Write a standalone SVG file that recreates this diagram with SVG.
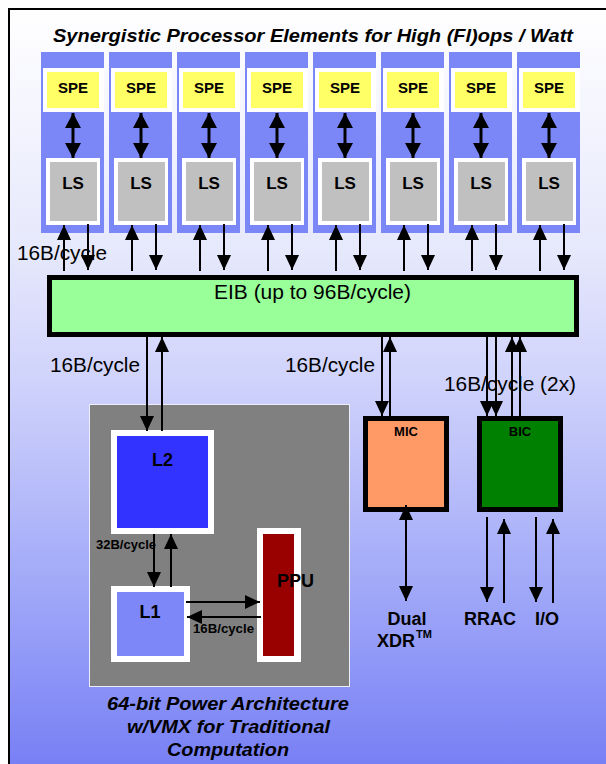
<svg xmlns="http://www.w3.org/2000/svg" width="606" height="764" viewBox="0 0 606 764">
<style>
text{font-family:"Liberation Sans",Arial,sans-serif;fill:#000}
.b{font-weight:bold}
.bi{font-weight:bold;font-style:italic}
.lbl{font-size:20px}
.col{fill:#7c87f7}
.wf{fill:#ffffff}
.spe{fill:#ffff66}
.ls{fill:#c0c0c0}
.ln{stroke:#000;stroke-width:2;fill:none}
.lnb{stroke:#000;stroke-width:3;fill:none}
.box{stroke:#000;stroke-width:5}
</style>
<defs>
<linearGradient id="bg" gradientUnits="userSpaceOnUse" x1="0" y1="9" x2="0" y2="764">
<stop offset="0" stop-color="#ffffff"/>
<stop offset="0.32" stop-color="#e6e8fc"/>
<stop offset="0.49" stop-color="#d0d3fb"/>
<stop offset="0.78" stop-color="#9ea6f8"/>
<stop offset="1" stop-color="#7880f5"/>
</linearGradient>
<marker id="ah" markerUnits="userSpaceOnUse" markerWidth="16" markerHeight="15" refX="15" refY="7" orient="auto-start-reverse" viewBox="0 0 16 15">
<path d="M0,0 L15,7 L0,14 Z" fill="#000"/>
</marker>
<marker id="ahb" markerUnits="userSpaceOnUse" markerWidth="16" markerHeight="17" refX="15" refY="8" orient="auto-start-reverse" viewBox="0 0 16 17">
<path d="M0,0 L15,8 L0,16 Z" fill="#000"/>
</marker>
</defs>
<rect width="606" height="764" fill="#ffffff"/>
<rect x="9" y="9" width="620" height="780" fill="url(#bg)" stroke="#000" stroke-width="2"/>
<text x="53" y="42" class="bi" font-size="18" textLength="520" lengthAdjust="spacingAndGlyphs">Synergistic Processor Elements for High (Fl)ops / Watt</text>

<g id="spe1" transform="translate(41,0)"><rect class="col" x="0" y="52" width="63" height="181"/><rect class="wf" x="2" y="68" width="61" height="44"/><rect class="spe" x="6" y="72" width="52" height="36"/><text class="b" x="32" y="93" font-size="15" text-anchor="middle">SPE</text><rect class="wf" x="5" y="158" width="54" height="67"/><rect class="ls" x="9" y="162" width="47" height="59"/><text class="b" x="32" y="189" font-size="17" text-anchor="middle">LS</text></g>
<g id="spe2" transform="translate(109,0)"><rect class="col" x="0" y="52" width="63" height="181"/><rect class="wf" x="2" y="68" width="61" height="44"/><rect class="spe" x="6" y="72" width="52" height="36"/><text class="b" x="32" y="93" font-size="15" text-anchor="middle">SPE</text><rect class="wf" x="5" y="158" width="54" height="67"/><rect class="ls" x="9" y="162" width="47" height="59"/><text class="b" x="32" y="189" font-size="17" text-anchor="middle">LS</text></g>
<g id="spe3" transform="translate(177,0)"><rect class="col" x="0" y="52" width="63" height="181"/><rect class="wf" x="2" y="68" width="61" height="44"/><rect class="spe" x="6" y="72" width="52" height="36"/><text class="b" x="32" y="93" font-size="15" text-anchor="middle">SPE</text><rect class="wf" x="5" y="158" width="54" height="67"/><rect class="ls" x="9" y="162" width="47" height="59"/><text class="b" x="32" y="189" font-size="17" text-anchor="middle">LS</text></g>
<g id="spe4" transform="translate(245,0)"><rect class="col" x="0" y="52" width="63" height="181"/><rect class="wf" x="2" y="68" width="61" height="44"/><rect class="spe" x="6" y="72" width="52" height="36"/><text class="b" x="32" y="93" font-size="15" text-anchor="middle">SPE</text><rect class="wf" x="5" y="158" width="54" height="67"/><rect class="ls" x="9" y="162" width="47" height="59"/><text class="b" x="32" y="189" font-size="17" text-anchor="middle">LS</text></g>
<g id="spe5" transform="translate(313,0)"><rect class="col" x="0" y="52" width="63" height="181"/><rect class="wf" x="2" y="68" width="61" height="44"/><rect class="spe" x="6" y="72" width="52" height="36"/><text class="b" x="32" y="93" font-size="15" text-anchor="middle">SPE</text><rect class="wf" x="5" y="158" width="54" height="67"/><rect class="ls" x="9" y="162" width="47" height="59"/><text class="b" x="32" y="189" font-size="17" text-anchor="middle">LS</text></g>
<g id="spe6" transform="translate(381,0)"><rect class="col" x="0" y="52" width="63" height="181"/><rect class="wf" x="2" y="68" width="61" height="44"/><rect class="spe" x="6" y="72" width="52" height="36"/><text class="b" x="32" y="93" font-size="15" text-anchor="middle">SPE</text><rect class="wf" x="5" y="158" width="54" height="67"/><rect class="ls" x="9" y="162" width="47" height="59"/><text class="b" x="32" y="189" font-size="17" text-anchor="middle">LS</text></g>
<g id="spe7" transform="translate(449,0)"><rect class="col" x="0" y="52" width="63" height="181"/><rect class="wf" x="2" y="68" width="61" height="44"/><rect class="spe" x="6" y="72" width="52" height="36"/><text class="b" x="32" y="93" font-size="15" text-anchor="middle">SPE</text><rect class="wf" x="5" y="158" width="54" height="67"/><rect class="ls" x="9" y="162" width="47" height="59"/><text class="b" x="32" y="189" font-size="17" text-anchor="middle">LS</text></g>
<g id="spe8" transform="translate(517,0)"><rect class="col" x="0" y="52" width="63" height="181"/><rect class="wf" x="2" y="68" width="61" height="44"/><rect class="spe" x="6" y="72" width="52" height="36"/><text class="b" x="32" y="93" font-size="15" text-anchor="middle">SPE</text><rect class="wf" x="5" y="158" width="54" height="67"/><rect class="ls" x="9" y="162" width="47" height="59"/><text class="b" x="32" y="189" font-size="17" text-anchor="middle">LS</text></g>

<g id="eib"><rect x="49.5" y="277.5" width="527" height="57" fill="#99ff99" class="box"/><text x="214" y="299" class="lbl" textLength="197" lengthAdjust="spacingAndGlyphs">EIB (up to 96B/cycle)</text></g>

<g id="ppe"><rect x="89.5" y="404.5" width="260" height="282" fill="#808080" stroke="#eeeefa" stroke-width="1"/></g>
<g id="l2"><rect class="wf" x="111" y="430" width="103" height="104"/><rect x="117" y="436" width="91" height="92" fill="#3333ff"/><text class="b" x="162.5" y="466" font-size="18" text-anchor="middle">L2</text></g>
<g id="l1"><rect class="wf" x="111" y="586" width="79" height="76"/><rect x="117" y="592" width="67" height="64" fill="#7d87f7"/><text class="b" x="150" y="618" font-size="18" text-anchor="middle">L1</text></g>
<g id="ppu"><rect class="wf" x="257" y="528" width="44" height="134"/><rect x="263" y="534" width="31" height="122" fill="#990000"/><text class="b" x="277" y="587" font-size="18">PPU</text></g>
<g id="mic"><rect x="365.5" y="418.5" width="81" height="91" fill="#ff9966" class="box"/><text class="b" x="406" y="436" font-size="13" text-anchor="middle">MIC</text></g>
<g id="bic"><rect x="479.5" y="418.5" width="81" height="91" fill="#008000" class="box"/><text class="b" x="520" y="436" font-size="13" text-anchor="middle">BIC</text></g>

<g id="connectors">
<g class="lnb" marker-start="url(#ahb)" marker-end="url(#ahb)">
<path d="M73,113 V158"/><path d="M141,113 V158"/><path d="M209,113 V158"/><path d="M277,113 V158"/>
<path d="M345,113 V158"/><path d="M413,113 V158"/><path d="M481,113 V158"/><path d="M549,113 V158"/>
</g>
<g class="ln" marker-end="url(#ah)">
<path d="M64,271 V225"/><path d="M88,224 V270"/>
<path d="M132,271 V225"/><path d="M156,224 V270"/>
<path d="M200,271 V225"/><path d="M224,224 V270"/>
<path d="M268,271 V225"/><path d="M292,224 V270"/>
<path d="M336,271 V225"/><path d="M360,224 V270"/>
<path d="M404,271 V225"/><path d="M428,224 V270"/>
<path d="M472,271 V225"/><path d="M496,224 V270"/>
<path d="M540,271 V225"/><path d="M564,224 V270"/>
<path d="M147,337 V431"/><path d="M162,431 V337"/>
<path d="M154,534 V587"/><path d="M171,587 V534"/>
<path d="M186,602 H260"/><path d="M261,617 H187"/>
<path d="M382,337 V416"/><path d="M390,416 V337"/>
<path d="M487,337 V416"/><path d="M496,337 V416"/>
<path d="M512,416 V337"/><path d="M520,416 V337"/>
<path d="M406,505 V601" marker-start="url(#ah)"/>
<path d="M487,517 V602"/><path d="M504,603 V519"/>
<path d="M536,517 V602"/><path d="M553,603 V519"/>
</g>
</g>

<g id="labels">
<text x="17" y="260" class="lbl" textLength="90" lengthAdjust="spacingAndGlyphs">16B/cycle</text>
<text x="50" y="372" class="lbl" textLength="90" lengthAdjust="spacingAndGlyphs">16B/cycle</text>
<text x="285" y="372" class="lbl" textLength="90" lengthAdjust="spacingAndGlyphs">16B/cycle</text>
<text x="444" y="391" class="lbl" textLength="132" lengthAdjust="spacingAndGlyphs">16B/cycle (2x)</text>
<text x="96" y="549" class="b" font-size="12" textLength="60" lengthAdjust="spacingAndGlyphs">32B/cycle</text>
<text x="193" y="633" class="b" font-size="12" textLength="61" lengthAdjust="spacingAndGlyphs">16B/cycle</text>
<text x="407" y="625" class="b" font-size="18" text-anchor="middle">Dual</text>
<text x="377" y="647" class="b" font-size="18">XDR</text>
<text x="416" y="638" class="b" font-size="11">TM</text>
<text x="464" y="625" class="b" font-size="18">RRAC</text>
<text x="535" y="625" class="b" font-size="18">I/O</text>
<text x="228" y="710" class="bi" font-size="18" text-anchor="middle" textLength="242" lengthAdjust="spacingAndGlyphs">64-bit Power Architecture</text>
<text x="228.5" y="733" class="bi" font-size="18" text-anchor="middle" textLength="203" lengthAdjust="spacingAndGlyphs">w/VMX for Traditional</text>
<text x="228" y="756" class="bi" font-size="18" text-anchor="middle" textLength="122" lengthAdjust="spacingAndGlyphs">Computation</text>
</g>
</svg>
